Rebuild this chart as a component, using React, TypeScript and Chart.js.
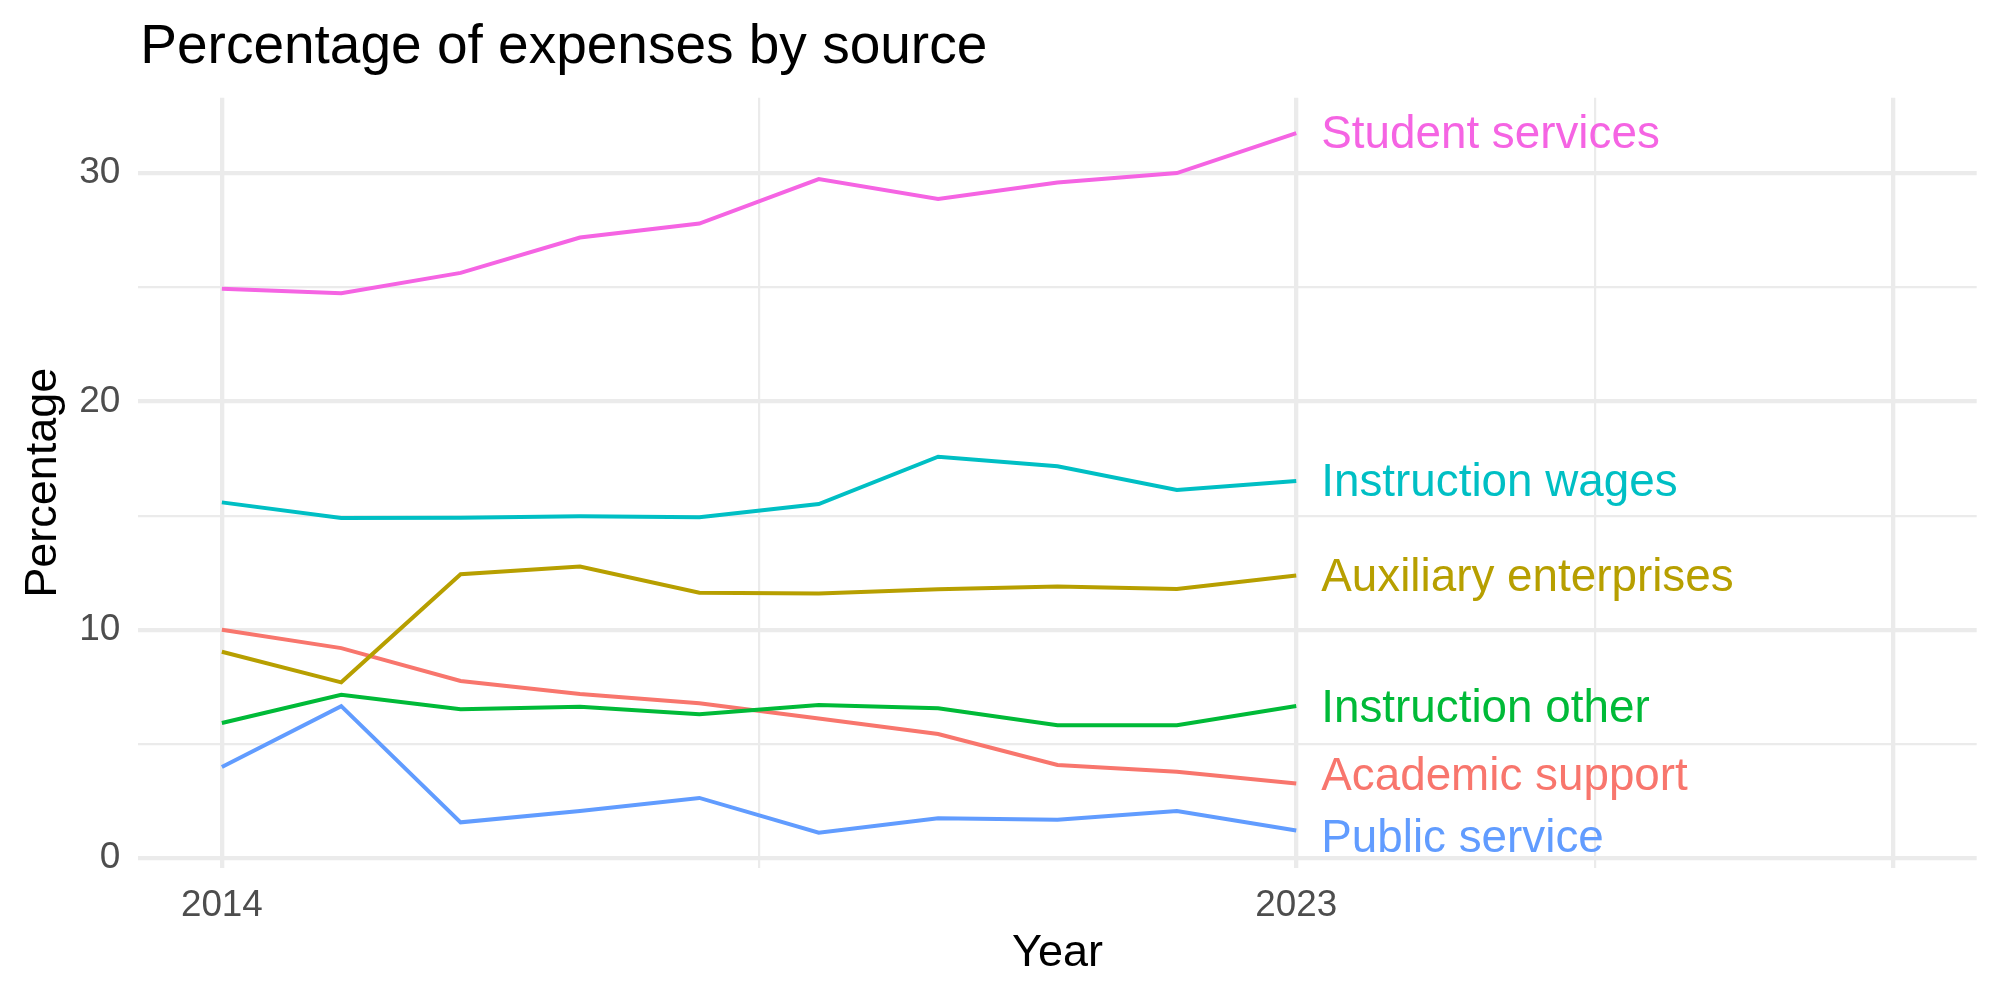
import React, { useEffect, useRef } from "react";
import { Chart, registerables } from "chart.js";

Chart.register(...registerables);

// ---- Data ----
const years = [2014, 2015, 2016, 2017, 2018, 2019, 2020, 2021, 2022, 2023];
const seriesNames = [
  "Academic support",
  "Auxiliary enterprises",
  "Instruction other",
  "Instruction wages",
  "Public service",
  "Student services",
];
const academicSupport = [10.0, 9.2, 7.76, 7.19, 6.78, 6.12, 5.44, 4.08, 3.79, 3.27];
const auxiliaryEnterprises = [9.04, 7.7, 12.43, 12.77, 11.62, 11.59, 11.78, 11.9, 11.79, 12.38];
const instructionOther = [5.92, 7.16, 6.52, 6.63, 6.3, 6.71, 6.57, 5.82, 5.82, 6.66];
const instructionWages = [15.58, 14.9, 14.91, 14.97, 14.93, 15.51, 17.58, 17.16, 16.12, 16.52];
const publicService = [3.99, 6.66, 1.57, 2.07, 2.64, 1.12, 1.75, 1.68, 2.07, 1.21];
const studentServices = [24.93, 24.74, 25.63, 27.18, 27.79, 29.74, 28.87, 29.59, 30.0, 31.75];
const seriesValues = [
  academicSupport,
  auxiliaryEnterprises,
  instructionOther,
  instructionWages,
  publicService,
  studentServices,
];
const seriesColors = ["#F8766D", "#B79F00", "#00BA38", "#00BFC4", "#619CFF", "#F564E3"];
// vertical positions (data units) of the end labels (slightly repelled)
const labelY = [3.65, 12.36, 6.64, 16.5, 0.92, 31.75];
const labelYear = 2023;

const titleText = "Percentage of expenses by source";
const xTitle = "Year";
const yTitle = "Percentage";

const xMajorGrid = [2014, 2023, 2028];
const xMinorGrid = [2018.5, 2025.5];
const xTickLabels = [2014, 2023];
const yMajorGrid = [0, 10, 20, 30];
const yMinorGrid = [5, 15, 25];

const xMin = 2013.3;
const xMax = 2028.7;
const yMin = -0.416;
const yMax = 33.3;

const FONT = '"Liberation Sans", Arial, Helvetica, sans-serif';
const GRID_COLOR = "#EBEBEB";
const MAJOR_W = 4.3;
const MINOR_W = 2.2;

const textPlugin = {
  id: "customTexts",
  afterDraw(chart: any) {
    const ctx = chart.ctx as CanvasRenderingContext2D;
    const area = chart.chartArea;
    const xs = chart.scales.x;
    const ys = chart.scales.y;
    ctx.save();
    // Title
    ctx.fillStyle = "#000000";
    ctx.font = `55px ${FONT}`;
    ctx.textAlign = "left";
    ctx.textBaseline = "alphabetic";
    ctx.fillText(titleText, area.left + 2, 63);
    // X title
    ctx.font = `45px ${FONT}`;
    ctx.textAlign = "center";
    ctx.fillText(xTitle, (area.left + area.right) / 2, 966);
    // Y title
    ctx.save();
    ctx.translate(56, (area.top + area.bottom) / 2);
    ctx.rotate(-Math.PI / 2);
    ctx.fillText(yTitle, 0, 0);
    ctx.restore();
    // End labels
    const fs = 45.8;
    ctx.font = `${fs}px ${FONT}`;
    ctx.textAlign = "left";
    ctx.textBaseline = "alphabetic";
    const lx = xs.getPixelForValue(labelYear) + 25;
    seriesNames.forEach((name, i) => {
      ctx.fillStyle = seriesColors[i];
      const py = ys.getPixelForValue(labelY[i]);
      ctx.fillText(name, lx, py + fs * 0.33);
    });
    ctx.restore();
  },
};

export default function App() {
  const canvasRef = useRef<HTMLCanvasElement | null>(null);

  useEffect(() => {
    const canvas = canvasRef.current;
    if (!canvas) return;
    const xMajorSet = new Set(xMajorGrid);
    const yMajorSet = new Set(yMajorGrid);
    const n = seriesNames.length;
    const chart = new Chart(canvas, {
      type: "line",
      data: {
        datasets: seriesNames.map((name, i) => ({
          label: name,
          data: years.map((yr, j) => ({ x: yr, y: seriesValues[i][j] })),
          borderColor: seriesColors[i],
          backgroundColor: seriesColors[i],
          borderWidth: 4,
          pointRadius: 0,
          tension: 0,
          fill: false,
          order: n - 1 - i,
        })),
      },
      options: {
        animation: false,
        responsive: false,
        devicePixelRatio: 1,
        layout: { padding: { top: 97.7, right: 23.3, left: 0, bottom: 0 } },
        plugins: {
          legend: { display: false },
          tooltip: { enabled: false },
          title: { display: false },
        },
        scales: {
          x: {
            type: "linear",
            min: xMin,
            max: xMax,
            afterBuildTicks: (scale: any) => {
              scale.ticks = [...xMajorGrid, ...xMinorGrid]
                .sort((a, b) => a - b)
                .map((v) => ({ value: v }));
            },
            afterFit: (scale: any) => {
              scale.height = 1000 - 867.7;
            },
            ticks: {
              autoSkip: false,
              maxRotation: 0,
              padding: 16,
              color: "#4D4D4D",
              font: { family: FONT, size: 36.8 },
              callback: (v: any) => (xTickLabels.includes(Number(v)) ? String(v) : ""),
            },
            grid: {
              color: GRID_COLOR,
              drawTicks: false,
              lineWidth: (c: any) =>
                c.tick && xMajorSet.has(c.tick.value) ? MAJOR_W : MINOR_W,
            },
            border: { display: false },
          },
          y: {
            type: "linear",
            min: yMin,
            max: yMax,
            afterBuildTicks: (scale: any) => {
              scale.ticks = [...yMajorGrid, ...yMinorGrid]
                .sort((a, b) => a - b)
                .map((v) => ({ value: v }));
            },
            afterFit: (scale: any) => {
              scale.width = 138.3;
            },
            ticks: {
              autoSkip: false,
              padding: 18,
              color: "#4D4D4D",
              font: { family: FONT, size: 37 },
              callback: (v: any) => (yMajorSet.has(Number(v)) ? String(v) : ""),
            },
            grid: {
              color: GRID_COLOR,
              drawTicks: false,
              lineWidth: (c: any) =>
                c.tick && yMajorSet.has(c.tick.value) ? MAJOR_W : MINOR_W,
            },
            border: { display: false },
          },
        },
      },
      plugins: [textPlugin],
    } as any);
    return () => chart.destroy();
  }, []);

  return (
    <div style={{ position: "absolute", left: 0, top: 0, width: 2000, height: 1000, background: "#ffffff" }}>
      <canvas ref={canvasRef} width={2000} height={1000} style={{ width: 2000, height: 1000, display: "block" }} />
    </div>
  );
}
